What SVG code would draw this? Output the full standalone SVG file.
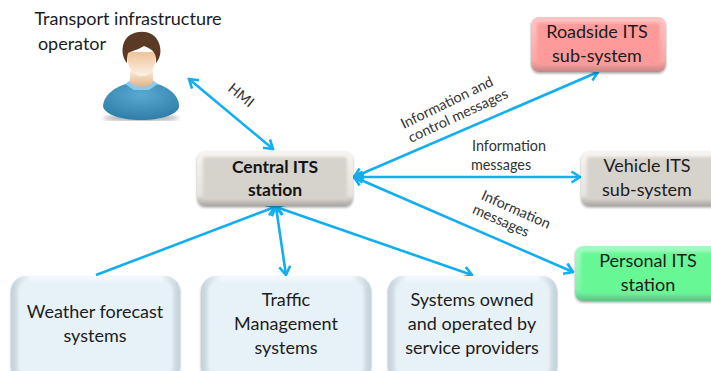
<svg xmlns="http://www.w3.org/2000/svg" width="711" height="371" viewBox="0 0 711 371">
<style>
text{font-family:"Lato","Open Sans","Liberation Sans",sans-serif;fill:#1c1c1c;text-anchor:middle}
.n{font-size:18px}
.b{font-size:17.5px;font-weight:700;fill:#141414}
.l{font-size:14.4px;fill:#333}
.c{fill:none;stroke:#12aeef;stroke-width:2.6;marker-end:url(#a)}
.d{marker-start:url(#a)}
.i{filter:url(#s)}
</style>
<defs>
<marker id="a" viewBox="0 0 14 14" refX="12.5" refY="7" markerWidth="14" markerHeight="14" markerUnits="userSpaceOnUse" orient="auto-start-reverse"><path d="M4 1.5L12.5 7L4 12.5" fill="none" stroke="#12aeef" stroke-width="2.6"/></marker>
<filter id="sh" x="-10%" y="-10%" width="120%" height="130%"><feDropShadow dx="0" dy="1.5" stdDeviation="1.2" flood-color="#000" flood-opacity=".35"/></filter>
<filter id="s"><feGaussianBlur stdDeviation="1.6"/></filter>
<filter id="t"><feGaussianBlur stdDeviation="2"/></filter>
<linearGradient id="eg" x1="0" y1="0" x2="0" y2="1"><stop offset="0" stop-color="#f6f4f0"/><stop offset=".8" stop-color="#e6e3de"/><stop offset="1" stop-color="#aaa7a2"/></linearGradient>
<linearGradient id="eb" x1="0" y1="0" x2="1" y2="0"><stop offset="0" stop-color="#c2d2da"/><stop offset=".12" stop-color="#f2f8fb"/><stop offset=".88" stop-color="#f2f8fb"/><stop offset="1" stop-color="#c2d2da"/></linearGradient>
<linearGradient id="er" x1="0" y1="0" x2="0" y2="1"><stop offset="0" stop-color="#ffc4c4"/><stop offset=".8" stop-color="#fba7a7"/><stop offset="1" stop-color="#c98484"/></linearGradient>
<linearGradient id="eq" x1="0" y1="0" x2="0" y2="1"><stop offset="0" stop-color="#a2fbc2"/><stop offset=".8" stop-color="#7cf5a6"/><stop offset="1" stop-color="#5cc482"/></linearGradient>
<radialGradient id="body" cx=".5" cy=".3" r=".75"><stop offset="0" stop-color="#5aa9d2"/><stop offset="1" stop-color="#2b7ba6"/></radialGradient>
<linearGradient id="face" x1="0" y1="0" x2="0" y2="1"><stop offset="0" stop-color="#eec39a"/><stop offset="1" stop-color="#fdf1e4"/></linearGradient>
<linearGradient id="neck" x1="0" y1="0" x2="0" y2="1"><stop offset="0" stop-color="#fbeee0"/><stop offset="1" stop-color="#e2b48a"/></linearGradient>
</defs>

<g id="connectors">
<path class="c d" d="M189 79L273 149"/>
<path class="c d" d="M354 177L598 72"/>
<path class="c d" d="M354 177H580"/>
<path class="c d" d="M354 177L573 272"/>
<path class="c" d="M96 275L275 207"/>
<path class="c d" d="M276 207L286 275"/>
<path class="c d" d="M276 207L472 275"/>
</g>

<g id="operator">
<text class="n" x="128" y="25">Transport infrastructure</text>
<text class="n" x="72" y="50">operator</text>
<ellipse cx="141" cy="118" rx="38" ry="2.5" fill="#999" filter="url(#t)"/>
<path d="M103 106C104 94 116 87 126 84H157C168 87 179 95 179 106C179 114 162 120 141 120C120 120 104 114 103 106Z" fill="url(#body)"/>
<path d="M125 84L134 90H149L158 84L152 80H131Z" fill="#8cc9ea"/>
<path d="M130 70H153V82C150 88 133 88 130 82Z" fill="url(#neck)"/>
<path d="M127 52C127 68 133 76 142 76C151 76 156 68 156 52Z" fill="url(#face)"/>
<path d="M127 63C120 55 121 39 132 34C141 30 153 31 158 41C162 49 161 57 156 63C157 54 153 49 144 46C138 50 131 51 128 53C127 56 127 60 127 63Z" fill="#5a3a25"/>
</g>

<g id="central">
<rect x="197" y="151" width="156" height="55" rx="8" fill="url(#eg)" filter="url(#sh)"/>
<rect x="203" y="157" width="144" height="42" rx="3" fill="#d6d2cc" filter="url(#s)"/>
<text class="b" x="275" y="173">Central ITS</text>
<text class="b" x="275" y="196">station</text>
</g>

<g id="roadside">
<rect x="531" y="17" width="135" height="55" rx="8" fill="url(#er)" filter="url(#sh)"/>
<rect x="537" y="23" width="123" height="42" rx="3" fill="#fe9a9a" filter="url(#s)"/>
<text class="n" x="597" y="38">Roadside ITS</text>
<text class="n" x="597" y="62">sub-system</text>
</g>

<g id="vehicle">
<rect x="581" y="151" width="140" height="55" rx="8" fill="url(#eg)" filter="url(#sh)"/>
<rect x="587" y="157" width="128" height="42" rx="3" fill="#d6d2cc" filter="url(#s)"/>
<text class="n" x="647" y="172">Vehicle ITS</text>
<text class="n" x="647" y="196">sub-system</text>
</g>

<g id="personal">
<rect x="575" y="246" width="146" height="55" rx="8" fill="url(#eq)" filter="url(#sh)"/>
<rect x="581" y="252" width="134" height="42" rx="3" fill="#68f795" filter="url(#s)"/>
<text class="n" x="648" y="267">Personal ITS</text>
<text class="n" x="648" y="291">station</text>
</g>

<g id="weather">
<rect x="11" y="276" width="169" height="105" rx="15" fill="url(#eb)" filter="url(#sh)"/>
<rect x="18" y="281" width="155" height="95" rx="10" fill="#e7f2f8" filter="url(#s)"/>
<text class="n" x="95" y="318">Weather forecast</text>
<text class="n" x="95" y="342">systems</text>
</g>

<g id="traffic">
<rect x="201" y="276" width="170" height="105" rx="15" fill="url(#eb)" filter="url(#sh)"/>
<rect x="208" y="281" width="156" height="95" rx="10" fill="#e7f2f8" filter="url(#s)"/>
<text class="n" x="286" y="306">Traffic</text>
<text class="n" x="286" y="330">Management</text>
<text class="n" x="286" y="354">systems</text>
</g>

<g id="providers">
<rect x="388" y="276" width="169" height="105" rx="15" fill="url(#eb)" filter="url(#sh)"/>
<rect x="395" y="281" width="155" height="95" rx="10" fill="#e7f2f8" filter="url(#s)"/>
<text class="n" x="472" y="306">Systems owned</text>
<text class="n" x="472" y="330">and operated by</text>
<text class="n" x="472" y="354">service providers</text>
</g>

<g id="labels">
<text class="l" transform="translate(238 99) rotate(39)">HMI</text>
<text class="l" transform="translate(449 107) rotate(-26)">Information and</text>
<text class="l" transform="translate(460 120) rotate(-25)">control messages</text>
<text class="l" x="509" y="151">Information</text>
<text class="l" x="501" y="170">messages</text>
<text class="l" transform="translate(514 214) rotate(24)">Information</text>
<text class="l" transform="translate(499 225) rotate(24)">messages</text>
</g>
</svg>
